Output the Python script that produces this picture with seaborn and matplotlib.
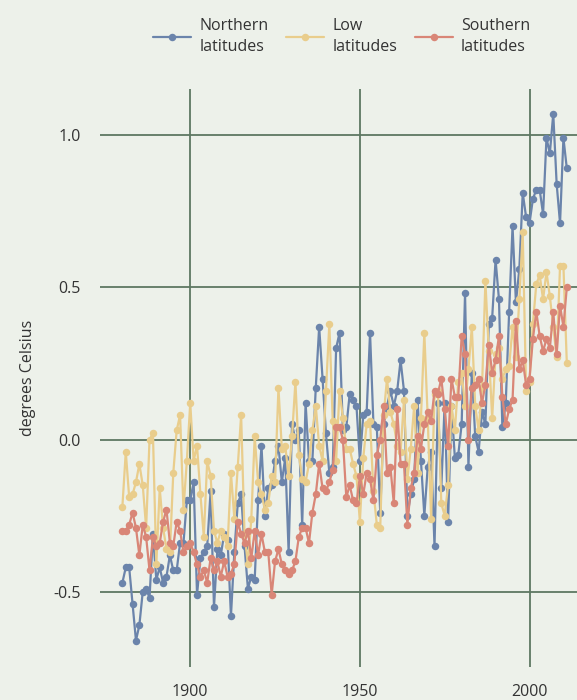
import matplotlib
matplotlib.use("Agg")
import matplotlib.pyplot as plt
import seaborn as sns
import pandas as pd
from matplotlib.lines import Line2D

years = list(range(1880, 2012))

northern = [
    -0.47, -0.42, -0.42, -0.54, -0.66, -0.61, -0.50, -0.49, -0.52, -0.31,
    -0.46, -0.42, -0.47, -0.45, -0.38, -0.43, -0.43, -0.34, -0.34, -0.20,
    -0.20, -0.14, -0.51, -0.39, -0.37, -0.35, -0.17, -0.55, -0.36, -0.38,
    -0.31, -0.33, -0.58, -0.37, -0.21, -0.18, -0.35, -0.49, -0.45, -0.46,
    -0.20, -0.02, -0.25, -0.16, -0.15, -0.07, -0.02, -0.14, -0.06, -0.37,
    0.05, 0.00, 0.03, -0.28, 0.12, -0.07, -0.07, 0.17, 0.37, 0.20,
    0.02, -0.11, -0.09, 0.30, 0.35, 0.03, 0.04, 0.15, 0.13, 0.11,
    -0.07, 0.08, 0.09, 0.35, 0.05, 0.04, -0.24, 0.05, 0.11, 0.16,
    0.11, 0.16, 0.26, 0.16, -0.25, -0.18, -0.13, 0.13, -0.07, -0.25,
    -0.09, -0.04, -0.35, 0.12, -0.16, 0.12, -0.27, 0.11, -0.06, -0.05,
    0.05, 0.48, -0.09, 0.22, 0.01, -0.04, 0.09, 0.05, 0.38, 0.40,
    0.59, 0.46, 0.04, 0.12, 0.42, 0.70, 0.45, 0.56, 0.81, 0.73,
    0.71, 0.79, 0.82, 0.82, 0.74, 0.99, 0.94, 1.07, 0.84, 0.71,
    0.99, 0.89,
]

low = [
    -0.22, -0.04, -0.19, -0.18, -0.14, -0.08, -0.15, -0.29, 0.00, 0.02,
    -0.41, -0.16, -0.29, -0.36, -0.37, -0.11, 0.03, 0.08, -0.23, -0.07,
    0.12, -0.07, -0.02, -0.18, -0.32, -0.07, -0.12, -0.30, -0.34, -0.30,
    -0.32, -0.35, -0.11, -0.26, -0.09, 0.08, -0.31, -0.41, -0.26, 0.01,
    -0.14, -0.18, -0.23, -0.21, -0.12, -0.14, 0.17, -0.03, -0.02, -0.12,
    0.01, 0.19, -0.05, -0.13, -0.14, -0.08, 0.03, 0.11, -0.02, -0.07,
    0.16, 0.38, 0.06, -0.07, 0.16, 0.07, -0.03, -0.03, -0.08, -0.12,
    -0.27, -0.06, 0.05, 0.06, -0.17, -0.28, -0.29, 0.08, 0.20, 0.09,
    0.05, -0.02, -0.04, 0.13, -0.13, -0.03, 0.11, -0.11, 0.07, 0.35,
    0.07, -0.26, 0.15, 0.16, -0.21, -0.25, -0.15, 0.11, 0.03, 0.19,
    0.22, 0.11, 0.23, 0.37, 0.11, 0.03, 0.17, 0.52, 0.29, 0.07,
    0.28, 0.30, 0.20, 0.23, 0.24, 0.37, 0.27, 0.46, 0.68, 0.16,
    0.19, 0.38, 0.51, 0.54, 0.46, 0.55, 0.47, 0.37, 0.27, 0.57,
    0.57, 0.25,
]

southern = [
    -0.30, -0.30, -0.28, -0.24, -0.29, -0.38, -0.28, -0.32, -0.43, -0.32,
    -0.35, -0.34, -0.27, -0.23, -0.34, -0.35, -0.27, -0.30, -0.37, -0.35,
    -0.34, -0.37, -0.41, -0.45, -0.43, -0.47, -0.39, -0.43, -0.40, -0.45,
    -0.40, -0.45, -0.44, -0.41, -0.27, -0.31, -0.34, -0.30, -0.39, -0.30,
    -0.38, -0.31, -0.37, -0.37, -0.51, -0.40, -0.36, -0.41, -0.43, -0.44,
    -0.43, -0.40, -0.32, -0.29, -0.29, -0.34, -0.24, -0.18, -0.08, -0.16,
    -0.17, -0.14, -0.10, 0.04, 0.04, 0.00, -0.19, -0.15, -0.20, -0.21,
    -0.12, -0.18, -0.11, -0.13, -0.20, -0.05, 0.00, 0.11, -0.11, -0.09,
    -0.21, 0.10, -0.08, -0.08, -0.28, -0.16, -0.11, 0.01, -0.03, 0.05,
    0.09, 0.06, 0.16, 0.15, 0.20, 0.10, -0.02, 0.20, 0.14, 0.14,
    0.34, 0.28, 0.00, 0.17, 0.18, 0.20, 0.12, 0.18, 0.31, 0.22,
    0.26, 0.34, 0.14, 0.05, 0.10, 0.13, 0.39, 0.23, 0.26, 0.18,
    0.20, 0.33, 0.42, 0.34, 0.29, 0.33, 0.30, 0.42, 0.28, 0.44,
    0.37, 0.50,
]

series_names = ["Northern latitudes", "Low latitudes", "Southern latitudes"]
legend_labels = ["Northern\nlatitudes", "Low\nlatitudes", "Southern\nlatitudes"]
colors = ["#6B84AB", "#E9CD8C", "#D98677"]

y_ticks = [-0.5, 0.0, 0.5, 1.0]
y_tick_labels = ["-0.5", "0.0", "0.5", "1.0"]
x_ticks = [1900, 1950, 2000]

df = pd.DataFrame({
    "year": years * 3,
    "value": northern + low + southern,
    "region": sum([[n] * len(years) for n in series_names], []),
})

bg = "#EDF1EA"
grid_col = "#5D7862"
text_col = "#333333"
fs = 11.5

sns.set_theme(style="white")
plt.rcParams["font.family"] = ["Open Sans", "DejaVu Sans"]

fig = plt.figure(figsize=(5.77, 7.0), dpi=100, facecolor=bg)
ax = fig.add_axes([100 / 577, 33 / 700, 477 / 577, 578 / 700])
ax.set_facecolor(bg)

sns.lineplot(
    data=df, x="year", y="value", hue="region", hue_order=series_names,
    palette=colors, marker="o", markersize=5.4, markeredgewidth=0,
    linewidth=1.6, legend=False, ax=ax, zorder=3,
)

ax.set_xlim(1873.4, 2014.0)
ax.set_ylim(-0.747, 1.151)
ax.set_xticks(x_ticks)
ax.set_xticklabels([str(t) for t in x_ticks])
ax.set_yticks(y_ticks)
ax.set_yticklabels(y_tick_labels)
ax.grid(True, color=grid_col, linewidth=1.3, zorder=1)
for s in ax.spines.values():
    s.set_visible(False)
ax.tick_params(axis="both", length=0, labelsize=fs, colors=text_col)
ax.tick_params(axis="y", pad=14)
ax.tick_params(axis="x", pad=12)
ax.set_xlabel("")
ax.set_ylabel("degrees Celsius", fontsize=fs, color=text_col, labelpad=12)

handles = [
    Line2D([0], [0], color=c, marker="o", markersize=5.4, markeredgewidth=0, linewidth=1.6)
    for c in colors
]
leg = fig.legend(
    handles, legend_labels, loc="upper center", bbox_to_anchor=(0.592, 0.995),
    ncol=3, frameon=False, fontsize=fs, handlelength=2.4, handletextpad=0.5,
    columnspacing=1.1, labelcolor=text_col, borderaxespad=0.5,
)
for t in leg.get_texts():
    t.set_linespacing(1.4)

fig.savefig("out.png", dpi=100, facecolor=bg)
